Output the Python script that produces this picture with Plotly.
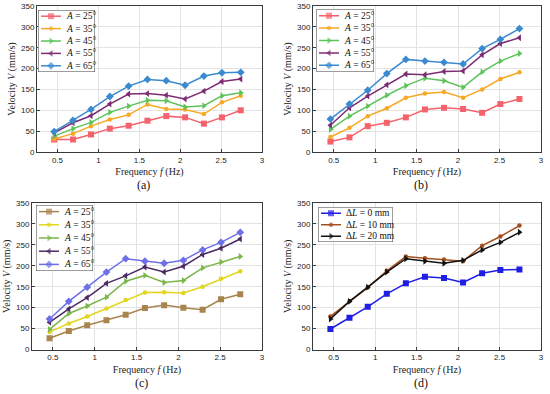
import plotly.graph_objects as go

# ---------------- data ----------------
freq = [0.46, 0.69, 0.91, 1.14, 1.37, 1.60, 1.83, 2.06, 2.29, 2.51, 2.74]

a_labels = ["25", "35", "45", "55", "65"]
a_v25 = [30, 30, 42, 56, 63, 75, 86, 83, 68, 83, 100]
a_v35 = [31, 44, 62, 78, 89, 114, 103, 102, 91, 119, 135]
a_v45 = [38, 56, 71, 95, 110, 124, 123, 108, 111, 135, 142]
a_v55 = [46, 70, 87, 115, 139, 140, 136, 127, 146, 169, 175]
a_v65 = [49, 76, 102, 133, 158, 174, 171, 160, 182, 190, 191]

b_v25 = [25, 35, 62, 70, 83, 102, 106, 103, 94, 115, 127]
b_v35 = [36, 58, 86, 105, 130, 140, 144, 130, 150, 175, 191]
b_v45 = [54, 86, 110, 136, 159, 177, 171, 155, 192, 218, 236]
b_v55 = [64, 106, 134, 161, 187, 185, 193, 194, 233, 260, 274]
b_v65 = [79, 115, 148, 188, 222, 218, 215, 211, 248, 270, 296]

c_v25 = [27, 44, 58, 70, 83, 99, 106, 100, 95, 120, 132]
c_v35 = [42, 62, 79, 98, 118, 136, 137, 135, 150, 169, 187]
c_v45 = [48, 86, 104, 125, 163, 177, 160, 165, 195, 209, 222]
c_v55 = [65, 97, 124, 158, 176, 197, 185, 199, 227, 242, 264]
c_v65 = [73, 115, 149, 185, 217, 211, 206, 213, 238, 256, 280]

d_labels = ["0", "10", "20"]
d_v0 = a_v65
d_v10 = b_v65
d_v20 = c_v65

x_ticks = [0.5, 1, 1.5, 2, 2.5, 3]
y_ticks = [0, 50, 100, 150, 200, 250, 300, 350]

# ---------------- styles ----------------
W, H = 550, 394
SERIF = "Liberation Serif"
SANS = "Liberation Sans"

col_ab = ["#F4626B", "#F7A825", "#5DC35B", "#7D2C73", "#3B8AD0"]
col_c = ["#A8844E", "#E2D51E", "#7AB648", "#4B2A63", "#6F6FE8"]
col_d = ["#1E1EE6", "#A3501E", "#111111"]
sym_a = ["square", "circle", "triangle-right", "triangle-left", "diamond"]
msz_a = [6, 4.5, 6, 6, 6]
sym_d = ["square", "circle", "triangle-right"]
msz_d = [6, 4.5, 6]

# panel plot areas in pixels: (x0, x1, y0, y1)
panels = {
    "a": (37, 262, 6, 152),
    "b": (313, 541, 6, 152),
    "c": (32, 262, 203, 349.5),
    "d": (313, 541, 203, 349.5),
}
# legend boxes in pixels
legboxes = {
    "a": (38, 95, 10, 72),
    "b": (316, 374, 9.5, 71.5),
    "c": (36, 93, 205, 271),
    "d": (318, 393, 207.5, 242),
}


def px2x(p):
    return p / W


def px2y(p):
    return 1 - p / H


fig = go.Figure()

series = {
    "a": ([a_v25, a_v35, a_v45, a_v55, a_v65], col_ab, sym_a, msz_a,
          ["<i>A</i> = %s°" % s for s in a_labels]),
    "b": ([b_v25, b_v35, b_v45, b_v55, b_v65], col_ab, sym_a, msz_a,
          ["<i>A</i> = %s°" % s for s in a_labels]),
    "c": ([c_v25, c_v35, c_v45, c_v55, c_v65], col_c, sym_a, msz_a,
          ["<i>A</i> = %s°" % s for s in a_labels]),
    "d": ([d_v0, d_v10, d_v20], col_d, sym_d, msz_d,
          ["Δ<i>L</i> = %s mm" % s for s in d_labels]),
}

annotations = []
for i, key in enumerate(["a", "b", "c", "d"]):
    n = i + 1
    xa = "x" if n == 1 else "x%d" % n
    ya = "y" if n == 1 else "y%d" % n
    vals, cols, syms, mszs, names = series[key]
    for v, c, s, ms, nm in zip(vals, cols, syms, mszs, names):
        fig.add_trace(go.Scatter(
            x=freq, y=v, mode="lines+markers", name=nm, showlegend=False,
            line=dict(color=c, width=1.5),
            marker=dict(symbol=s, size=ms, color=c, line=dict(width=0)),
            xaxis=xa, yaxis=ya))
    x0, x1, y0, y1 = panels[key]
    axstyle = dict(showline=True, mirror=True, linecolor="#3a3a3a", linewidth=1,
                   showgrid=True, gridcolor="#e3e3e3", gridwidth=1,
                   ticks="inside", ticklen=3, tickcolor="#3a3a3a", automargin=False,
                   zeroline=False, tickfont=dict(family=SANS, size=8, color="#222"))
    fig.layout["xaxis" if n == 1 else "xaxis%d" % n] = dict(
        axstyle, domain=[px2x(x0), px2x(x1)], range=[0.25, 3],
        tickvals=x_ticks, ticktext=["0.5", "1", "1.5", "2", "2.5", "3"],
        anchor=ya,
        title=dict(text="Frequency <i>f</i> (Hz)", standoff=4,
                   font=dict(family=SERIF, size=10, color="#222")))
    fig.layout["yaxis" if n == 1 else "yaxis%d" % n] = dict(
        axstyle, domain=[px2y(y1), px2y(y0)], range=[0, 350],
        tickvals=y_ticks, anchor=xa,
        title=dict(text="Velocity <i>V</i> (mm/s)", standoff=3,
                   font=dict(family=SERIF, size=10, color="#222")))
    annotations.append(dict(
        text="(%s)" % key, x=px2x((x0 + x1) / 2 - 6), y=px2y(y1 + 33),
        xref="paper", yref="paper", xanchor="center", yanchor="middle",
        showarrow=False, font=dict(family=SERIF, size=12, color="#111")))

# ---- custom compact legends (separate invisible axes in pixel units) ----
for i, key in enumerate(["a", "b", "c", "d"]):
    n = i + 5
    xa, ya = "x%d" % n, "y%d" % n
    lx0, lx1, ly0, ly1 = legboxes[key]
    w, h = lx1 - lx0, ly1 - ly0
    vals, cols, syms, mszs, names = series[key]
    k = len(names)
    fig.add_trace(go.Scatter(
        x=[0, w, w, 0, 0], y=[0, 0, h, h, 0], mode="lines", fill="toself",
        fillcolor="white", line=dict(color="#3a3a3a", width=1),
        showlegend=False, hoverinfo="skip", xaxis=xa, yaxis=ya))
    for j, (c, s, ms, nm) in enumerate(zip(cols, syms, mszs, names)):
        yc = h * (j + 0.5) / k
        fig.add_trace(go.Scatter(
            x=[3, 13, 23], y=[yc, yc, yc], mode="lines+markers",
            line=dict(color=c, width=1.5),
            marker=dict(symbol=s, size=[0, ms, 0], color=c, line=dict(width=0)),
            showlegend=False, hoverinfo="skip", xaxis=xa, yaxis=ya))
        annotations.append(dict(
            text=nm, x=25.5, y=yc, xref=xa, yref=ya, xanchor="left",
            yanchor="middle", showarrow=False,
            font=dict(family=SERIF, size=9.5, color="#111")))
    fig.layout["xaxis%d" % n] = dict(domain=[px2x(lx0), px2x(lx1)], range=[0, w],
                                     visible=False, anchor=ya, fixedrange=True,
                                     automargin=False)
    fig.layout["yaxis%d" % n] = dict(domain=[px2y(ly1), px2y(ly0)], range=[h, 0],
                                     visible=False, anchor=xa, fixedrange=True,
                                     automargin=False)

fig.update_layout(
    width=W, height=H, margin=dict(l=0, r=0, t=0, b=0),
    paper_bgcolor="white", plot_bgcolor="white",
    showlegend=False, annotations=annotations, hovermode=False,
)

fig.write_html("out.html", config={"displayModeBar": False, "staticPlot": True},
               post_script="document.body.style.margin='0px';")
